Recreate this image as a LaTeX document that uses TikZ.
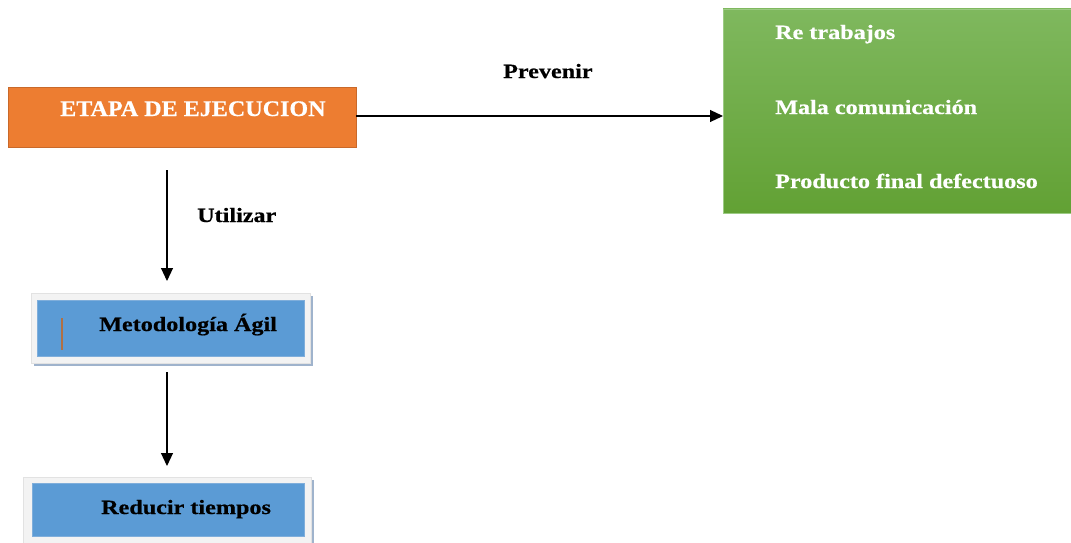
\documentclass[tikz,border=0pt]{standalone}
\usepackage{fontspec}
\setmainfont{Liberation Serif}
\newfontfamily\boxfont{Liberation Serif}[FakeStretch=1.19,FakeBold=0.6]
\newfontfamily\headfont{Liberation Serif}[FakeStretch=1.08,FakeBold=0.6]
\usetikzlibrary{arrows.meta}
\definecolor{orangefill}{HTML}{ED7D31}
\definecolor{orangeedge}{HTML}{C9692A}
\definecolor{greentop}{HTML}{7FB85E}
\definecolor{greenbot}{HTML}{62A134}
\definecolor{greenedge}{HTML}{9CCB84}
\definecolor{bluefill}{HTML}{5B9BD5}
\definecolor{blueedge}{HTML}{7FAEDB}
\definecolor{framefill}{HTML}{F3F3F3}
\definecolor{frameedge}{HTML}{E2E2E2}
\definecolor{shadowc}{HTML}{9FB3CC}
\definecolor{markc}{HTML}{B07044}
\tikzset{
  box/.style={anchor=north west, inner sep=0pt, outer sep=0pt},
  txt/.style={anchor=base west, inner sep=0pt, font=\boxfont\bfseries\fontsize{20.3}{24}\selectfont},
  arr/.style={line width=1.1pt, -{Triangle[length=13pt,width=12pt]}},
}
\begin{document}
\begin{tikzpicture}[x=1pt,y=-1pt]
\useasboundingbox (0,0) rectangle (1071,543);

% stage box
\node[box, draw=orangeedge, fill=orangefill, line width=0.8pt,
      minimum width=348pt, minimum height=60pt] (etapa) at (8,87) {};
\node[txt, font=\headfont\bfseries\fontsize{22.3}{26}\selectfont, text=white]
      (etapaTxt) at (60,116) {ETAPA DE EJECUCION};

% risks box
\node[box, draw=greenedge, top color=greentop, bottom color=greenbot, line width=0.8pt,
      minimum width=352pt, minimum height=204pt] (riesgos) at (723,9) {};
\node[txt, text=white] (r1) at (775,39) {Re trabajos};
\node[txt, text=white] (r2) at (775,114) {Mala comunicación};
\node[txt, text=white] (r3) at (775,188) {Producto final defectuoso};

% methodology box
\fill[shadowc] (34,296) rectangle (313,366);
\node[box, draw=frameedge, fill=framefill, line width=0.6pt,
      minimum width=279pt, minimum height=70pt] (metFrame) at (31,293) {};
\node[box, draw=blueedge, fill=bluefill, line width=0.6pt,
      minimum width=267pt, minimum height=56pt] (met) at (37,300) {};
\draw[markc, line width=1.4pt] (62,318) -- (62,350);
\node[txt] (metTxt) at (99,331) {Metodología Ágil};

% time reduction box
\fill[shadowc] (26,480) rectangle (314,546);
\node[box, draw=frameedge, fill=framefill, line width=0.6pt,
      minimum width=288pt, minimum height=70pt] (redFrame) at (23,477) {};
\node[box, draw=blueedge, fill=bluefill, line width=0.6pt,
      minimum width=272pt, minimum height=53pt] (red) at (32,483) {};
\node[txt] (redTxt) at (101,514) {Reducir tiempos};

% connectors
\draw[arr] (etapa.east |- 0,116) -- (riesgos.west |- 0,116);
\node[txt] (prev) at (503,78) {Prevenir};

\coordinate (c1) at (167,170);
\coordinate (c2) at (167,281);
\draw[arr] (c1) -- (c2);
\node[txt] (util) at (197,222) {Utilizar};

\coordinate (c3) at (167,372);
\coordinate (c4) at (167,466);
\draw[arr] (c3) -- (c4);
\end{tikzpicture}
\end{document}
